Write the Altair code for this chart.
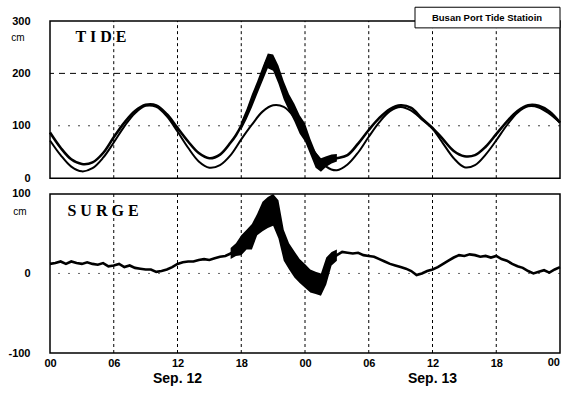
import altair as alt
import pandas as pd

# ---------------- data (hours counted from 00h Sep 12) ----------------
tick_hours = [0, 6, 12, 18, 24, 30, 36, 42, 48]
grid_hours = [6, 12, 18, 24, 30, 36, 42]
date_hours = [12, 36]
date_labels = ["Sep. 12", "Sep. 13"]

# predicted (astronomical) tide, hourly, cm
pred_hours = list(range(0, 49))
pred_tide = [72, 44, 22, 13, 19, 39, 68, 99, 124, 138,
             136, 118, 89, 58, 32, 20, 25, 44, 74, 102,
             127, 139, 136, 116, 82, 47, 22, 15, 26, 49,
             79, 107, 128, 136, 129, 112, 94, 66, 38, 21,
             25, 45, 72, 101, 125, 137, 135, 123, 106]

# observed tide, cm
obs_hours = [0, 1, 2, 3, 4, 5, 6, 7, 8, 9, 10, 11, 12, 13, 14, 15, 16, 17,
             17.5, 18, 18.5, 19, 19.5, 20, 20.5, 21, 21.5, 22, 22.5, 23,
             23.5, 24, 24.5, 25, 25.5, 26, 26.5, 27,
             28, 29, 30, 31, 32, 33, 34, 35, 36, 37, 38, 39, 40, 41, 42,
             43, 44, 45, 46, 47, 48]
obs_tide = [87, 58, 36, 27, 30, 48, 78, 106, 128, 140, 139, 122, 96, 70, 48, 38, 45, 68,
            82, 100, 122, 148, 172, 198, 226, 220, 198, 168, 144, 125,
            104, 87, 60, 35, 25, 32, 36, 38,
            44, 66, 92, 115, 132, 139, 134, 114, 96, 74, 52, 42, 44, 60, 84,
            108, 128, 139, 138, 127, 106]

# spread of the noisy observed record during the storm
tide_band_hours = [18, 18.5, 19, 19.5, 20, 20.5, 21, 21.5, 22, 22.5,
                   23, 23.5, 24, 24.5, 25, 25.5, 26, 26.5, 27]
tide_band_lo = [92, 112, 135, 160, 185, 210, 205, 180, 150, 128,
                108, 85, 70, 45, 20, 12, 22, 28, 32]
tide_band_hi = [108, 132, 160, 185, 212, 238, 236, 215, 185, 160,
                142, 120, 105, 75, 50, 38, 42, 45, 46]

# storm surge, half-hourly, cm
surge_hours = [i * 0.5 for i in range(97)]
surge = [12, 13, 15, 12, 15, 13, 12, 14, 12, 11,
         13, 9, 10, 12, 8, 10, 7, 6, 5, 5,
         2, 3, 5, 8, 12, 14, 15, 15, 17, 18,
         17, 19, 21, 22, 25, 30, 35, 42, 46, 60,
         72, 76, 80, 68, 35, 22, 12, 3, -3, -10,
         -12, -14, 2, 18, 23, 27, 26, 25, 26, 23,
         22, 21, 18, 15, 12, 10, 8, 6, 3, -2,
         0, 3, 5, 8, 12, 16, 20, 23, 22, 24,
         23, 21, 22, 20, 22, 18, 16, 12, 9, 7,
         3, 0, 2, 4, 1, 5, 8]

surge_band_hours = [17, 17.5, 18, 18.5, 19, 19.5, 20, 20.5, 21, 21.5,
                    22, 22.5, 23, 23.5, 24, 24.5, 25, 25.5, 26, 26.5, 27]
surge_band_lo = [18, 22, 23, 30, 30, 48, 53, 57, 60, 44,
                 16, 5, -5, -12, -18, -24, -26, -28, -14, 10, 16]
surge_band_hi = [32, 38, 48, 55, 62, 75, 90, 96, 100, 92,
                 55, 38, 28, 18, 12, 5, 2, 0, 20, 27, 30]

tide_ticks = [0, 100, 200, 300]
surge_ticks = [-100, 0, 100]

# ---------------- layout: two stacked panels on one shared vertical scale ----------------
# panel units: bottom (surge) panel 0..162, gap, top (tide) panel 178..338
TOP0, TOPK = 178, 160 / 300
BOT0, BOTK = 81, 0.81
FONT = "Liberation Sans"

def tide_expr(f):
    return f"{TOP0} + datum.{f} * {TOPK}"

def surge_expr(f):
    return f"{BOT0} + datum.{f} * {BOTK}"

y_ticks = [TOP0 + t * TOPK for t in tide_ticks] + [BOT0 + s * BOTK for s in surge_ticks]

x_scale = alt.Scale(domain=[0, 48], nice=False, zero=False)
y_scale = alt.Scale(domain=[0, 338], nice=False, zero=False)

hour_label = "(datum.value % 24 < 10 ? '0' : '') + (datum.value % 24)"
X_AX = alt.Axis(values=tick_hours[:-1], labelExpr=hour_label, title=None, grid=False,
                ticks=False, tickSize=0, domain=False, labelFlush=False,
                labelFont=FONT, labelFontSize=11, labelFontWeight="bold",
                labelColor="black", labelPadding=4)
Y_AX = alt.Axis(values=y_ticks, title=None, grid=False, ticks=False, tickSize=0, domain=False,
                labelExpr=(f"datum.value >= 170 ? '' + round((datum.value - {TOP0}) / {TOPK}) "
                           f": '' + round((datum.value - {BOT0}) / {BOTK})"),
                labelFont=FONT, labelFontSize=11, labelFontWeight="bold",
                labelColor="black", labelPadding=20, minExtent=48, maxExtent=48)

X = alt.X("h:Q", scale=x_scale, axis=X_AX)

def Y(f):
    return alt.Y(f"{f}:Q", scale=y_scale, axis=Y_AX)

def YD(v):
    return alt.YDatum(v, type="quantitative", scale=y_scale, axis=Y_AX)

# panel frames and vertical grid lines
frames_df = pd.DataFrame({"h": [0, 0], "h2": [48, 48], "yv": [TOP0, 0], "yv2": [338, 162]})
vg_rows = [(g, TOP0, 338) for g in grid_hours] + [(g, 0, 162) for g in grid_hours]
vgrid_df = pd.DataFrame(vg_rows, columns=["h", "yv", "yv2"])

vgrid = alt.Chart(vgrid_df).mark_rule(color="black", strokeDash=[3, 3], strokeWidth=1).encode(
    x=X, y=Y("yv"), y2="yv2:Q")
h200 = alt.Chart(pd.DataFrame({"v": [200]})).transform_calculate(yv=tide_expr("v")).mark_rule(
    color="black", strokeDash=[6, 5], strokeWidth=1).encode(y=Y("yv"))
h100 = alt.Chart(pd.DataFrame({"v": [100]})).transform_calculate(yv=tide_expr("v")).mark_rule(
    color="#444", strokeDash=[2, 8], strokeWidth=1).encode(y=Y("yv"))
h0 = alt.Chart(pd.DataFrame({"v": [0]})).transform_calculate(yv=surge_expr("v")).mark_rule(
    color="#666", strokeDash=[2, 8], strokeWidth=1).encode(y=Y("yv"))

pred_line = alt.Chart(pd.DataFrame({"h": pred_hours, "v": pred_tide})).transform_calculate(
    yv=tide_expr("v")).mark_line(color="black", strokeWidth=2, interpolate="catmull-rom").encode(
    x=X, y=Y("yv"))
obs_band = alt.Chart(pd.DataFrame({"h": tide_band_hours, "lo": tide_band_lo, "hi": tide_band_hi})
                     ).transform_calculate(a=tide_expr("lo"), b=tide_expr("hi")).mark_area(
    color="black", opacity=1).encode(x=X, y=Y("a"), y2="b:Q")
obs_line = alt.Chart(pd.DataFrame({"h": obs_hours, "v": obs_tide})).transform_calculate(
    yv=tide_expr("v")).mark_line(color="black", strokeWidth=2.6, interpolate="catmull-rom").encode(
    x=X, y=Y("yv"))

surge_band = alt.Chart(pd.DataFrame({"h": surge_band_hours, "lo": surge_band_lo, "hi": surge_band_hi})
                       ).transform_calculate(a=surge_expr("lo"), b=surge_expr("hi")).mark_area(
    color="black", opacity=1).encode(x=X, y=Y("a"), y2="b:Q")
surge_line = alt.Chart(pd.DataFrame({"h": surge_hours, "v": surge})).transform_calculate(
    yv=surge_expr("v")).mark_line(color="black", strokeWidth=2.6).encode(x=X, y=Y("yv"))

frames = alt.Chart(frames_df).mark_rect(fillOpacity=0, stroke="black", strokeWidth=1.5).encode(
    x=X, x2="h2:Q", y=Y("yv"), y2="yv2:Q")

# last x label ("00" of Sep 14), right-aligned at the panel edge
last_tick = alt.Chart(pd.DataFrame({"h": tick_hours[-1:]})).transform_calculate(
    t="(datum.h % 24 < 10 ? '0' : '') + (datum.h % 24)").mark_text(
    font=FONT, fontSize=11, fontWeight="bold", color="black", align="right",
    baseline="top", dy=4).encode(x=X, y=YD(0), text="t:N")

def label(text, x, yv, size, font=FONT, weight="normal"):
    return alt.Chart(pd.DataFrame({"t": [text]})).mark_text(
        font=font, fontSize=size, fontWeight=weight, color="black", align="center",
        baseline="middle").encode(text="t:N", x=alt.value(x), y=YD(yv))

tide_title = label("T I D E", 51, 322, 16, "Liberation Serif", "bold")
surge_title = label("S U R G E", 53, 145, 16, "Liberation Serif", "bold")
tide_cm = label("cm", -32, 321, 10)
surge_cm = label("cm", -30, 144, 10)
legend_box = alt.Chart(pd.DataFrame({"t": [""]})).mark_rect(
    fill="white", stroke="black", strokeWidth=1).encode(
    x=alt.value(365), x2=alt.value(510), y=YD(352), y2=alt.Y2Datum(331))
legend_txt = label("Busan Port Tide Statioin", 437, 341, 9.5, FONT, "bold")
date_txt = alt.Chart(pd.DataFrame({"h": date_hours, "t": date_labels})).mark_text(
    font=FONT, fontSize=14, fontWeight="bold", color="black", align="center",
    baseline="middle").encode(x=X, text="t:N", y=YD(-26))

chart = alt.layer(
    vgrid, h200, h100, h0, pred_line, obs_band, obs_line, surge_band, surge_line,
    frames, last_tick, tide_title, surge_title, tide_cm, surge_cm, legend_box, legend_txt,
    date_txt
).properties(
    width=569, height=396,
    autosize=alt.AutoSizeParams(type="fit", contains="padding"),
    padding={"left": 2, "top": 4, "right": 3, "bottom": 5},
    background="white",
).configure_view(stroke=None)

chart.save("out.html", embed_options={"renderer": "svg", "actions": False})
